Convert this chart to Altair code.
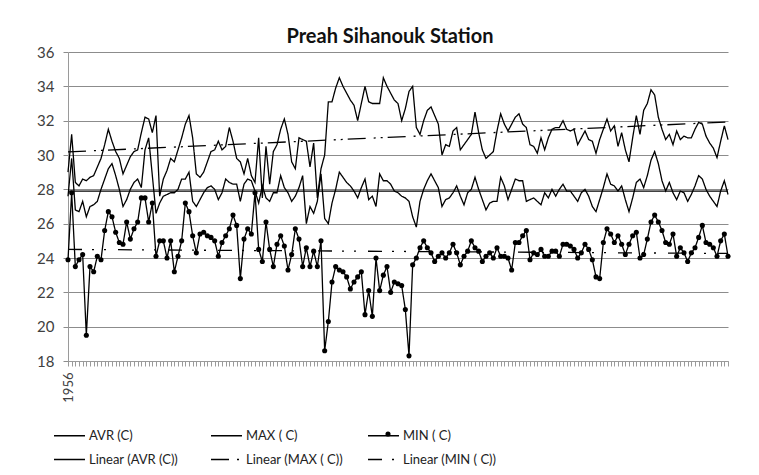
import altair as alt
import pandas as pd

TITLE = "Preah Sihanouk Station"
FIRST_YEAR = "1956"
SERIES = ["AVR (C)", "MAX ( C)", "MIN ( C)"]
TRENDS = ["Linear (AVR (C))", "Linear (MAX ( C))", "Linear (MIN ( C))"]
Y_TICKS = [18, 20, 22, 24, 26, 28, 30, 32, 34, 36]

AVR = [27.6, 29.8, 26.8, 26.7, 27.3, 26.4, 27.0, 27.1, 27.3, 28.0,
       28.6, 29.2, 29.5, 28.8, 28.0, 27.0, 27.4, 28.0, 28.4, 28.6,
       28.1, 30.3, 31.0, 28.8, 26.6, 27.2, 27.6, 27.7, 27.8, 27.8,
       28.0, 28.6, 28.6, 29.0, 27.3, 27.0, 27.4, 27.8, 28.1, 28.2,
       28.0, 27.4, 27.8, 28.6, 28.4, 28.3, 28.3, 27.3, 28.3, 28.6,
       28.5, 27.9, 27.2, 28.2, 27.5, 27.3, 27.8, 27.8, 28.8, 28.1,
       27.8, 27.3, 27.6, 28.1, 28.8, 26.0, 27.0, 26.6, 27.3, 28.9,
       26.3, 26.0, 27.2, 28.0, 29.0, 28.7, 28.4, 28.2, 27.9, 27.5,
       28.1, 28.6, 27.4, 27.6, 27.0, 28.9, 28.5, 28.5, 28.3, 27.9,
       27.8, 27.6, 27.5, 27.3, 26.4, 25.8, 27.3, 28.0, 28.5, 28.9,
       28.5, 28.1, 27.0, 27.4, 27.5, 27.8, 28.2, 27.6, 27.1, 27.8,
       28.0, 28.7, 28.0, 27.4, 26.8, 27.2, 27.3, 27.3, 28.7, 28.2,
       27.4, 28.0, 28.6, 28.5, 28.5, 27.3, 27.4, 27.5, 27.3, 27.1,
       27.8, 27.5, 28.0, 27.6, 28.0, 28.3, 27.9, 27.9, 27.6, 27.3,
       27.8, 28.0, 27.6, 27.0, 26.7, 27.4, 28.1, 28.9, 28.3, 28.2,
       27.9, 28.2, 27.4, 26.7, 27.5, 28.4, 28.6, 28.1, 28.8, 29.7,
       30.2, 29.5, 28.5, 27.9, 28.4, 27.8, 27.4, 27.9, 27.8, 27.3,
       27.7, 28.2, 28.8, 28.6, 28.0, 27.6, 27.3, 27.0, 27.9, 28.5, 27.7]

MAX = [29.0, 31.2, 28.4, 28.2, 28.6, 28.5, 28.7, 28.8, 29.3, 29.8,
       30.6, 31.5, 30.8, 30.2, 29.8, 28.9, 29.4, 29.9, 30.2, 30.3,
       31.3, 32.2, 32.1, 31.3, 32.3, 27.6, 28.6, 29.1, 29.8, 29.6,
       30.3, 31.0, 31.8, 32.3, 31.0, 28.9, 28.7, 29.0, 29.6, 30.2,
       30.3, 30.8, 30.3, 30.5, 31.6, 30.8, 29.8, 29.6, 28.9, 29.8,
       28.8, 28.4, 31.0, 27.5, 30.5, 28.3, 30.2, 30.6, 31.5, 32.1,
       31.2, 29.6, 29.2, 31.0, 30.9, 30.8, 29.3, 30.7, 27.5, 29.2,
       30.0, 33.1, 33.1, 33.9, 34.5, 34.0, 33.6, 33.2, 32.9, 32.0,
       33.0, 34.0, 33.1, 33.0, 33.0, 33.0, 34.5, 34.0, 33.6, 33.2,
       33.0, 32.0, 32.7, 33.7, 34.0, 31.6, 31.2, 32.0, 32.6, 32.8,
       32.3, 31.8, 30.0, 30.6, 30.5, 31.4, 31.6, 30.3, 30.6, 30.9,
       31.2, 32.5, 31.3, 30.3, 29.8, 30.0, 30.2, 31.4, 32.4, 31.8,
       31.4, 31.8, 32.2, 32.4, 31.8, 31.6, 30.6, 30.5, 30.1, 31.0,
       30.3, 31.0, 31.5, 31.6, 31.6, 32.0, 31.5, 31.4, 31.5, 30.6,
       31.0, 31.4, 30.9, 30.8, 30.1, 30.9, 31.5, 32.1, 31.4, 31.7,
       30.5, 31.3, 30.3, 29.6, 31.0, 32.3, 31.2, 32.6, 33.0, 33.8,
       33.5, 32.2, 31.5, 30.9, 31.2, 30.6, 31.4, 30.9, 31.1, 31.0,
       31.0, 31.5, 31.9, 31.8, 31.1, 30.7, 30.4, 29.85, 30.8, 31.7, 30.9]

MIN = [23.9, 27.8, 23.5, 23.9, 24.2, 19.5, 23.5, 23.2, 24.1, 23.9,
       25.6, 26.7, 26.4, 25.5, 24.9, 24.8, 26.1, 25.1, 25.7, 26.1,
       27.5, 27.5, 26.1, 27.2, 24.1, 25.0, 25.0, 24.0, 25.0, 23.2,
       24.1, 25.0, 27.2, 26.7, 25.3, 24.3, 25.4, 25.5, 25.3, 25.2,
       25.0, 24.1, 24.9, 25.3, 25.7, 26.5, 25.9, 22.8, 25.1, 25.7,
       25.4, 27.8, 24.5, 23.8, 26.1, 24.5, 23.5, 24.8, 25.3, 24.7,
       23.3, 24.2, 25.7, 25.1, 23.5, 24.6, 23.5, 24.4, 23.5, 25.0,
       18.6, 20.3, 22.6, 23.5, 23.3, 23.2, 22.9, 22.2, 22.6, 22.9,
       23.2, 20.7, 22.1, 20.6, 24.0, 22.1, 23.0, 23.5, 22.0, 22.6,
       22.5, 22.4, 21.0, 18.3, 23.6, 24.0, 24.6, 25.0, 24.6, 24.3,
       23.8, 24.1, 24.3, 24.0, 24.3, 24.8, 24.3, 23.6, 24.1, 24.4,
       25.0, 24.6, 24.4, 23.8, 24.1, 24.3, 24.0, 24.6, 24.1, 24.1,
       24.0, 23.3, 24.9, 24.9, 25.3, 25.6, 23.9, 24.3, 24.2, 24.5,
       24.1, 24.1, 24.4, 24.4, 24.1, 24.8, 24.8, 24.7, 24.5, 24.0,
       24.3, 24.8, 24.5, 23.9, 22.9, 22.8, 24.9, 25.7, 25.4, 24.9,
       25.3, 24.8, 24.2, 24.8, 25.3, 25.5, 24.0, 24.2, 25.1, 26.1,
       26.5, 26.1, 25.6, 24.9, 24.8, 25.4, 24.1, 24.6, 24.3, 23.8,
       24.3, 24.6, 25.2, 25.9, 24.9, 24.8, 24.6, 24.1, 25.0, 25.4, 24.1]

rows = []
for name, vals in zip(SERIES, [AVR, MAX, MIN]):
    for i, v in enumerate(vals):
        rows.append({"idx": i, "value": v, "series": name})
df = pd.DataFrame(rows)
n = max(len(AVR), len(MAX), len(MIN))

FONT = "Lato"

x_enc = alt.X(
    "idx:Q",
    scale=alt.Scale(domain=[0, n - 1], nice=False, zero=False),
    axis=alt.Axis(
        values=list(range(n)),
        labelExpr=f"datum.value == 0 ? '{FIRST_YEAR}' : ''",
        labelAngle=270, labelOverlap=False, labelFontSize=13, labelFont=FONT,
        labelColor="#404040", labelPadding=6,
        grid=False, tickSize=5, tickColor="#9a9a9a", domainColor="#9a9a9a",
        title=None,
    ),
)
y_enc = alt.Y(
    "value:Q",
    scale=alt.Scale(domain=[18, 36], nice=False, zero=False),
    axis=alt.Axis(
        values=Y_TICKS, grid=True, gridColor="#8c8c8c", gridWidth=1,
        tickSize=5, tickColor="#8c8c8c", domainColor="#9a9a9a",
        labelFontSize=15, labelFont=FONT, labelColor="#404040", labelPadding=9,
        title=None,
    ),
)

order = SERIES + TRENDS
legend = alt.Legend(
    title=None, orient="none", legendX=-15, legendY=367, columns=3,
    direction="horizontal", symbolType="stroke", symbolSize=960,
    symbolStrokeColor="black", symbolFillColor="black",
    labelFont=FONT, labelFontSize=13, labelColor="#222222",
    columnPadding=22, rowPadding=-8, labelOffset=3, gridAlign="all",
)
color_enc = alt.Color("series:N", scale=alt.Scale(domain=order, range=["black"] * 6), legend=legend, sort=order)
dash_enc = alt.StrokeDash("series:N", scale=alt.Scale(domain=order, range=[[1, 0], [1, 0], [1, 0], [1, 0], [18, 8, 2, 5, 2, 5], [14, 10, 2, 10, 2, 12]]), legend=legend, sort=order)
width_enc = alt.StrokeWidth("series:N", scale=alt.Scale(domain=order, range=[1.3, 1.3, 1.5, 2.6, 2.4, 2.4]), legend=legend, sort=order)

base = alt.Chart(df)

lines = base.mark_line().encode(x=x_enc, y=y_enc, color=color_enc, strokeDash=dash_enc, strokeWidth=width_enc)

min_pts = (
    base.transform_filter(alt.datum.series == "MIN ( C)")
    .transform_calculate(marker="datum.series")
    .mark_point(size=26, opacity=1, filled=True, color="black")
    .encode(
        x=x_enc, y=y_enc,
        shape=alt.Shape("marker:N", scale=alt.Scale(domain=["MIN ( C)"], range=["circle"]),
                        legend=alt.Legend(title=None, orient="none", legendX=317, legendY=379,
                                          labelExpr="''", labelFontSize=1, symbolSize=26,
                                          symbolFillColor="black", symbolStrokeColor="black",
                                          symbolStrokeWidth=0, padding=0)),
    )
)

trend = (
    base.transform_regression("idx", "value", groupby=["series"], method="linear", extent=[0, n - 1])
    .transform_calculate(series="'Linear (' + datum.series + ')'")
    .mark_line()
    .encode(x=x_enc, y=y_enc, color=color_enc, strokeDash=dash_enc, strokeWidth=width_enc)
)

chart = (
    alt.layer(lines, min_pts, trend)
    .properties(
        width=660, height=309,
        title=alt.TitleParams(TITLE, fontSize=20, fontWeight="bold", font=FONT, color="#111111",
                              anchor="middle", offset=-2, dx=-8),
        padding={"left": 36, "top": 27, "right": 20, "bottom": 5},
        background="white",
    )
    .configure_view(stroke=None)
)

chart.save("out.html", embed_options={"renderer": "svg", "actions": False})
